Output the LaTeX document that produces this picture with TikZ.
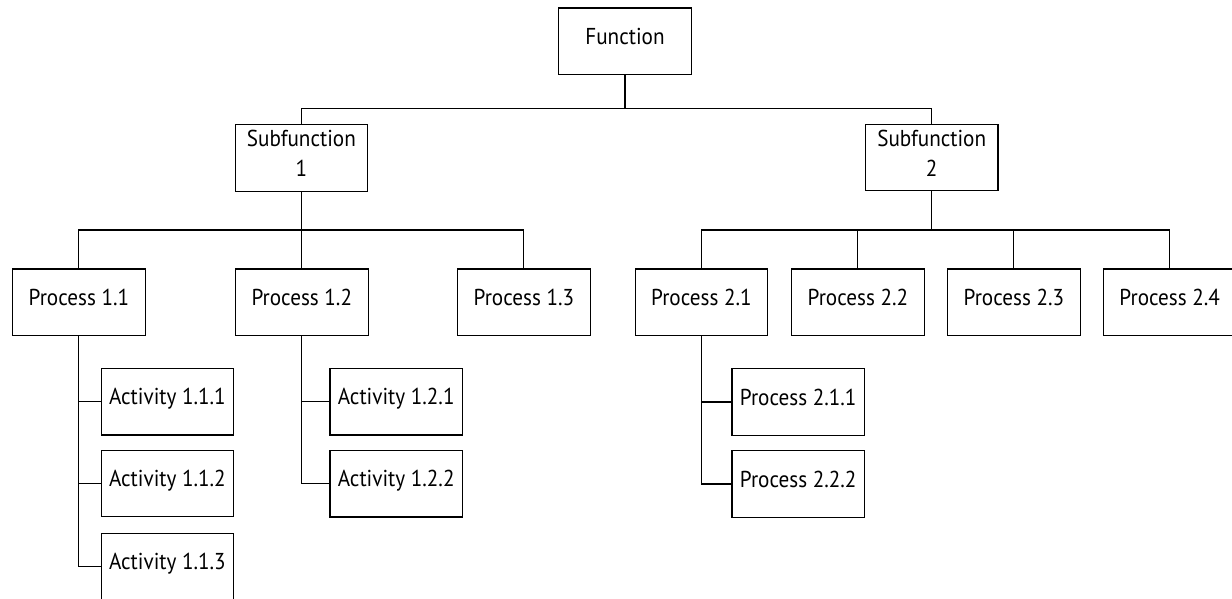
\documentclass[tikz,border=0pt]{standalone}
\usepackage{fontspec}
\setmainfont{PT Sans}[FakeStretch=0.92]
\begin{document}
\begin{tikzpicture}[x=1pt,y=-1pt,
  box/.style={draw, line width=1.1pt, minimum width=132.5pt, minimum height=66.5pt,
    inner sep=0pt, font=\fontsize{23}{30}\selectfont},
  one/.style={box, text height=16pt, text depth=10pt},
  two/.style={box, align=center},
  conn/.style={line width=1.1pt}]
\useasboundingbox (0,0) rectangle (1232,598);
% level 0
\node[one] (f) at (625,41.2) {Function};
% level 1
\node[two] (s1) at (301.4,158) {Subfunction\\1\rule[-9pt]{0pt}{9pt}};
\node[two] (s2) at (931.7,157.5) {Subfunction\\2\rule[-9pt]{0pt}{9pt}};
% level 2
\node[one] (p11) at (78.9,302.2) {Process 1.1};
\node[one] (p12) at (301.8,302.2) {Process 1.2};
\node[one] (p13) at (523.9,302.2) {Process 1.3};
\node[one] (p21) at (701.4,302.2) {Process 2.1};
\node[one] (p22) at (857.9,302.2) {Process 2.2};
\node[one] (p23) at (1013.9,302.2) {Process 2.3};
\node[one] (p24) at (1169.7,302.2) {Process 2.4};
% level 3
\node[one] (a111) at (167.4,401.7) {Activity 1.1.1};
\node[one] (a112) at (167.4,483.5) {Activity 1.1.2};
\node[one] (a113) at (167.4,566.5) {Activity 1.1.3};
\node[one] (a121) at (396.2,401.7) {Activity 1.2.1};
\node[one] (a122) at (396.2,483.7) {Activity 1.2.2};
\node[one] (q211) at (798.2,402) {Process 2.1.1};
\node[one] (q222) at (798.2,484) {Process 2.2.2};
% connectors
\coordinate (h0) at (625,108.5);
\coordinate (h1) at (301.4,230);
\coordinate (h2) at (931.7,230);
\draw[conn] (f.south) -- (h0);
\draw[conn] (h0) -| (s1.north);
\draw[conn] (h0) -| (s2.north);
\draw[conn] (s1.south) -- (h1);
\draw[conn] (h1) -| (p11.north);
\draw[conn] (h1) -| (p12.north);
\draw[conn] (h1) -| (p13.north);
\draw[conn] (s2.south) -- (h2);
\draw[conn] (h2) -| (p21.north);
\draw[conn] (h2) -| (p22.north);
\draw[conn] (h2) -| (p23.north);
\draw[conn] (h2) -| (p24.north);
\draw[conn] (p11.south) |- (a111.west);
\draw[conn] (p11.south) |- (a112.west);
\draw[conn] (p11.south) |- (a113.west);
\draw[conn] (p12.south) |- (a121.west);
\draw[conn] (p12.south) |- (a122.west);
\draw[conn] (p21.south) |- (q211.west);
\draw[conn] (p21.south) |- (q222.west);
\end{tikzpicture}
\end{document}
